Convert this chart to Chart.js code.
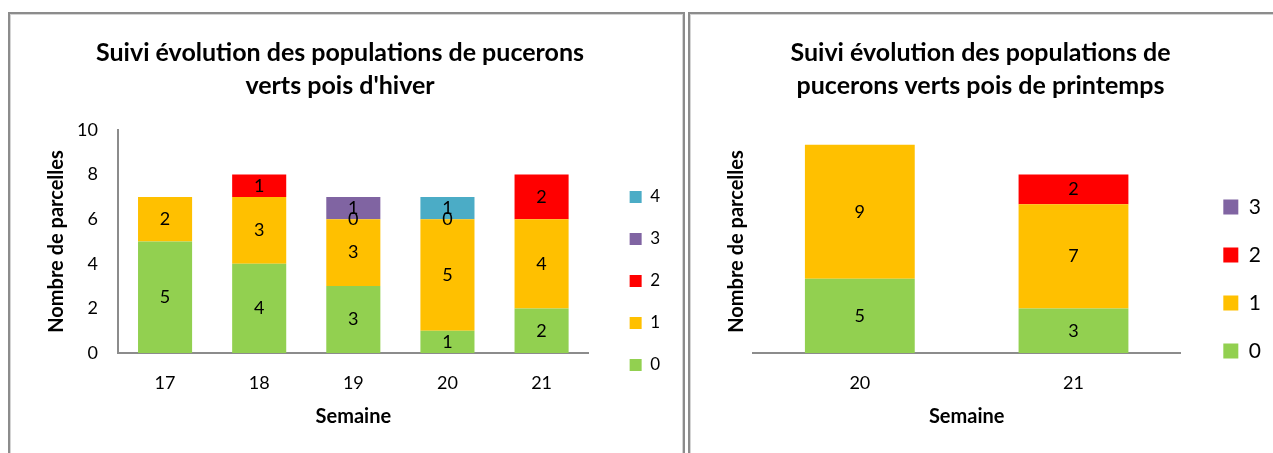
<!DOCTYPE html>
<html lang="fr">
<head>
<meta charset="utf-8">
<title>Suivi pucerons verts pois</title>
<script src="https://cdn.jsdelivr.net/npm/chart.js@4.4.1/dist/chart.umd.min.js"></script>
<style>
  html, body { margin: 0; padding: 0; background: #fff; overflow: hidden; }
  .cadre { position: absolute; top: 12px; height: 460px; border: 2px solid #8c8c8c; box-shadow: inset 0 0 0 1px #d4d4d4; background: #fff; }
  #cadreHiver { left: 8px; width: 673px; }
  #cadrePrintemps { left: 688px; width: 600px; }
  .cadre canvas { position: absolute; left: 0; top: 0; }
</style>
</head>
<body>
<div class="cadre" id="cadreHiver"><canvas id="grapheHiver" width="673" height="441"></canvas></div>
<div class="cadre" id="cadrePrintemps"><canvas id="graphePrintemps" width="594" height="441"></canvas></div>
<script>
// ---- données pois d'hiver ----
const semainesHiver = ["17", "18", "19", "20", "21"];
const hiverClasse0 = [5, 4, 3, 1, 2];
const hiverClasse1 = [2, 3, 3, 5, 4];
const hiverClasse2 = [null, 1, 0, 0, 2];
const hiverClasse3 = [null, null, 1, null, null];
const hiverClasse4 = [null, null, null, 1, null];
const ticksHiver = [0, 2, 4, 6, 8, 10];

// ---- données pois de printemps ----
const semainesPrintemps = ["20", "21"];
const printClasse0 = [5, 3];
const printClasse1 = [9, 7];
const printClasse2 = [null, 2];
const printClasse3 = [null, null];

const couleurs = ["#92D050", "#FFC000", "#FF0000", "#8064A2", "#4BACC6"];
const gris = "#8c8c8c";

Chart.defaults.font.family = "Lato, 'Open Sans', sans-serif";
Chart.defaults.color = "#000";

// valeurs écrites au milieu de chaque segment
const etiquettes = {
    id: "etiquettes",
    afterDatasetsDraw(chart) {
        const ctx = chart.ctx;
        ctx.save();
        ctx.font = "18px Lato";
        ctx.fillStyle = "#000";
        ctx.textAlign = "center";
        ctx.textBaseline = "middle";
        chart.data.datasets.forEach((ds, i) => {
            const meta = chart.getDatasetMeta(i);
            meta.data.forEach((barre, j) => {
                const v = ds.data[j];
                if(v === null || v === undefined) return;
                ctx.fillText(String(v), barre.x, (barre.y + barre.base) / 2);
            });
        });
        ctx.restore();
    }
};

function serie(nom, valeurs, couleur, pct) {
    return {
        label: nom,
        data: valeurs,
        backgroundColor: couleur,
        borderWidth: 0,
        barPercentage: pct,
        categoryPercentage: 1
    };
}

function options(titre, o) {
    return {
        responsive: false,
        animation: false,
        layout: { padding: { left: 0, right: 13, top: 0, bottom: 22 } },
        plugins: {
            tooltip: { enabled: false },
            title: {
                display: true,
                text: titre,
                color: "#000",
                font: { size: 25, weight: "bold", lineHeight: 33 / 25 },
                padding: { top: 22, bottom: 28 }
            },
            legend: {
                position: "right",
                reverse: true,
                // titre vide : sert juste à descendre la légende
                title: { display: true, text: "", font: { size: 10 }, padding: { top: o.decalage - 12, bottom: 0 } },
                labels: {
                    boxWidth: o.boite,
                    boxHeight: o.boite,
                    padding: o.ecart,
                    color: "#000",
                    font: { size: o.legendeTaille }
                }
            }
        },
        scales: {
            x: {
                stacked: true,
                grid: { display: false, drawTicks: false },
                border: { display: true, color: gris, width: 2 },
                ticks: { padding: 19, font: { size: 18 } },
                title: { display: true, text: "Semaine", font: { size: 20, weight: "bold" }, padding: { top: 0, bottom: 4 } },
                afterFit: s => { s.height = 80; }
            },
            y: {
                stacked: true,
                min: 0,
                max: o.max,
                grid: { display: false, drawTicks: false },
                border: { display: o.axeY, color: gris, width: 2 },
                ticks: {
                    display: o.axeY,
                    padding: 20,
                    font: { size: 18 },
                    stepSize: 2,
                    callback: v => o.ticks && o.ticks.includes(v) ? String(v) : null
                },
                title: { display: true, text: "Nombre de parcelles", font: { size: 20, weight: "bold" }, padding: { top: 35, bottom: 0 } },
                afterFit: s => { s.width = o.largeurY; }
            },
            marge: {
                type: "linear",
                position: "right",
                display: true,
                grid: { display: false, drawTicks: false },
                border: { display: false },
                ticks: { display: false },
                afterFit: s => { s.width = o.marge; }
            }
        }
    };
}

document.addEventListener("DOMContentLoaded", () => {
    // ------------------ POIS D'HIVER ------------------
    const pctHiver = 54 / 94;
    new Chart(document.getElementById("grapheHiver"), {
        type: "bar",
        data: {
            labels: semainesHiver,
            datasets: [
                serie("0", hiverClasse0, couleurs[0], pctHiver),
                serie("1", hiverClasse1, couleurs[1], pctHiver),
                serie("2", hiverClasse2, couleurs[2], pctHiver),
                serie("3", hiverClasse3, couleurs[3], pctHiver),
                serie("4", hiverClasse4, couleurs[4], pctHiver)
            ]
        },
        options: options(["Suivi évolution des populations de pucerons", "verts pois d'hiver"], {
            max: 10, ticks: ticksHiver, axeY: true, largeurY: 108, marge: 16,
            boite: 12, ecart: 25, legendeTaille: 17, decalage: 115
        }),
        plugins: [etiquettes]
    });

    // ------------------ POIS DE PRINTEMPS ------------------
    const pctPrint = 110 / 214;
    new Chart(document.getElementById("graphePrintemps"), {
        type: "bar",
        data: {
            labels: semainesPrintemps,
            datasets: [
                serie("0", printClasse0, couleurs[0], pctPrint),
                serie("1", printClasse1, couleurs[1], pctPrint),
                serie("2", printClasse2, couleurs[2], pctPrint),
                serie("3", printClasse3, couleurs[3], pctPrint)
            ]
        },
        options: options(["Suivi évolution des populations de", "pucerons verts pois de printemps"], {
            max: 15, ticks: null, axeY: false, largeurY: 63, marge: 16,
            boite: 15, ecart: 27, legendeTaille: 21, decalage: 111
        }),
        plugins: [etiquettes]
    });
});
</script>
</body>
</html>
